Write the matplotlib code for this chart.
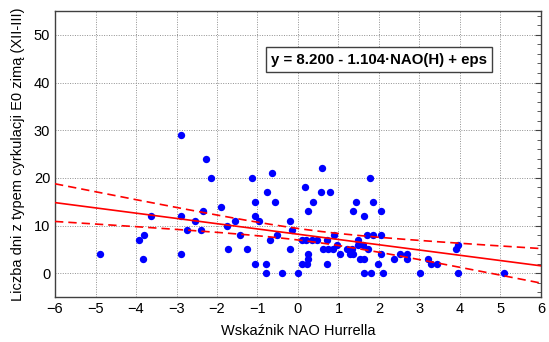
import matplotlib
matplotlib.use('Agg')
import matplotlib.pyplot as plt
from matplotlib.ticker import MultipleLocator
import numpy as np

plt.rcParams['font.family'] = ['Liberation Sans', 'DejaVu Sans']

# NAO index (Hurrell) and number of days with E0 circulation in winter
nao = [-4.90, -3.92, -3.81, -3.83, -3.63, -2.89, -2.89, -2.89, -2.73, -2.54,
       -2.39, -2.34, -2.27, -2.15, -1.90, -1.76, -1.72, -1.56, -1.43, -1.26,
       -1.14, -1.05, -1.05, -0.96, -1.06, -0.80, -0.80, -0.76, -0.70, -0.65,
       -0.56, -0.51, -0.39, -0.20, -0.16, -0.20, 0.00, 0.11, 0.17, 0.11,
       0.20, 0.21, 0.25, 0.25, 0.25, 0.37, 0.34, 0.48, 0.56, 0.60,
       0.79, 0.62, 0.74, 0.87, 0.72, 0.72, 0.90, 0.97, 1.03, 1.21,
       1.34, 1.28, 1.36, 1.36, 1.42, 1.48, 1.48, 1.60, 1.53, 1.64,
       1.64, 1.62, 1.71, 1.81, 1.79, 1.86, 1.85, 1.98, 2.05, 2.05,
       2.05, 2.10, 1.72, 2.38, 2.51, 2.68, 2.68, 3.02, 3.20, 3.28,
       3.43, 3.90, 3.95, 3.96, 5.09]
days = [4, 7, 8, 3, 12, 29, 12, 4, 9, 11,
        9, 13, 24, 20, 14, 10, 5, 11, 8, 5,
        20, 15, 12, 11, 2, 2, 0, 17, 7, 21,
        15, 8, 0, 11, 9, 5, 0, 2, 18, 7,
        7, 2, 3, 4, 13, 15, 7, 7, 17, 22,
        17, 5, 5, 5, 7, 2, 8, 6, 4, 5,
        5, 4, 4, 13, 15, 7, 6, 6, 3, 3,
        12, 0, 8, 0, 20, 15, 8, 2, 13, 8,
        4, 0, 5, 3, 4, 4, 3, 0, 3, 2,
        2, 5, 6, 0, 0]

intercept = 8.200
slope = -1.104
equation = 'y = 8.200 - 1.104\u00b7NAO(H) + eps'

x = np.array(nao)
y = np.array(days)
n = len(x)

# 95% confidence band of the regression line
resid = y - (intercept + slope * x)
s = np.sqrt(np.sum(resid ** 2) / (n - 2))
sxx = np.sum((x - x.mean()) ** 2)
xs = np.linspace(-6, 6, 200)
yhat = intercept + slope * xs
half = 1.985 * s * np.sqrt(1.0 / n + (xs - x.mean()) ** 2 / sxx)

fig = plt.figure(figsize=(5.49, 3.42), dpi=100)
ax = fig.add_axes([0.1002, 0.131, 0.8852, 0.837])

ax.scatter(x, y, s=28, color='#0000ff', zorder=3, linewidths=0)
ax.plot(xs, yhat, color='#ff0000', lw=1.2, zorder=4)
ax.plot(xs, yhat + half, color='#ff0000', lw=1.2, ls=(0, (5, 3)), zorder=4)
ax.plot(xs, yhat - half, color='#ff0000', lw=1.2, ls=(0, (5, 3)), zorder=4)

ax.set_xlim(-6, 6)
ax.set_ylim(-5, 55)
ax.set_xticks(range(-6, 7))
ax.set_yticks(range(0, 51, 10))
ax.yaxis.set_minor_locator(MultipleLocator(2))
ax.grid(True, which='major', color='#909090', ls=(0, (1, 1.5)), lw=0.7)
ax.set_axisbelow(True)
ax.tick_params(which='both', direction='in', labelsize=10.5,
               left=False, bottom=False, right=True, top=False)
ax.tick_params(which='major', length=4, color='#404040')
ax.tick_params(which='minor', length=3, color='#404040')
for sp in ax.spines.values():
    sp.set_color('#404040')
    sp.set_linewidth(1.0)

ax.set_xlabel('Wskaźnik NAO Hurrella', fontsize=10.5, labelpad=6)
ax.set_ylabel('Liczba dni z typem cyrkulacji E0 zimą (XII-III)',
              fontsize=10.5, labelpad=6)

ax.text(0.667, 0.83, equation, transform=ax.transAxes, ha='center',
        va='center', fontsize=10.8, fontweight='bold',
        bbox=dict(boxstyle='square,pad=0.35', fc='white', ec='#404040',
                  lw=1.0), zorder=5)

plt.savefig('out.png', dpi=100)
